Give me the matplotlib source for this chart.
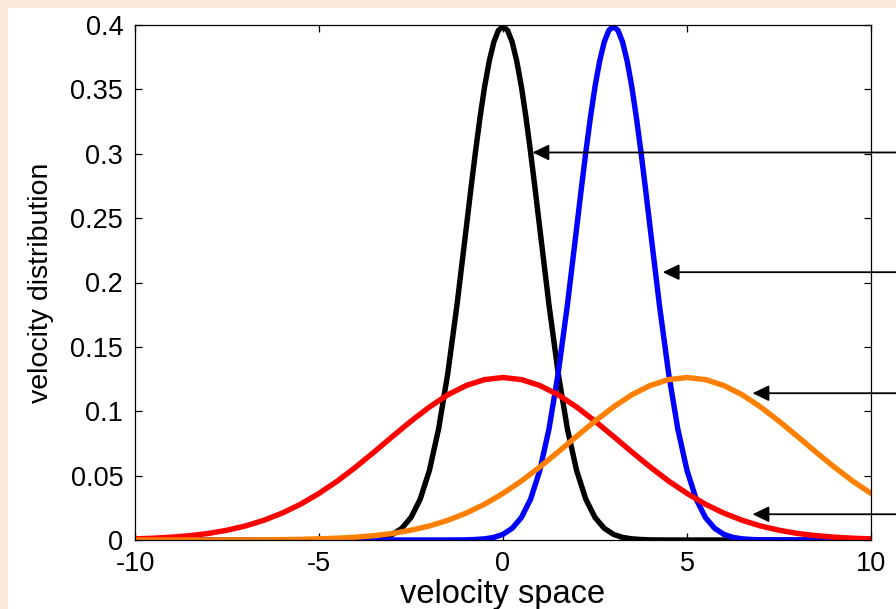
import matplotlib
matplotlib.use("Agg")
import matplotlib.pyplot as plt
from matplotlib.patches import Rectangle

plt.rcParams['font.family'] = ['Liberation Sans', 'DejaVu Sans']
plt.rcParams['axes.unicode_minus'] = False

# narrow distribution centred at 0 (black)
black_x = [-10, -4.5, -4, -3.75, -3.5, -3.25, -3, -2.75, -2.5, -2.25, -2, -1.75, -1.5, -1.25, -1,
           -0.875, -0.75, -0.625, -0.5, -0.375, -0.25, -0.125, 0, 0.125, 0.25, 0.375, 0.5, 0.625,
           0.75, 0.875, 1, 1.25, 1.5, 1.75, 2, 2.25, 2.5, 2.75, 3, 3.25, 3.5, 3.75, 4, 4.5, 10]
black_y = [0, 0, 0.0001, 0.0004, 0.0009, 0.0020, 0.0044, 0.0091, 0.0175, 0.0317, 0.0540, 0.0863,
           0.1295, 0.1826, 0.2420, 0.2721, 0.3011, 0.3281, 0.3521, 0.3718, 0.3867, 0.3958, 0.3989,
           0.3958, 0.3867, 0.3718, 0.3521, 0.3281, 0.3011, 0.2721, 0.2420, 0.1826, 0.1295, 0.0863,
           0.0540, 0.0317, 0.0175, 0.0091, 0.0044, 0.0020, 0.0009, 0.0004, 0.0001, 0, 0]

# narrow distribution centred at 3 (blue)
blue_x = [-10, -1.5, -1, -0.75, -0.5, -0.25, 0, 0.25, 0.5, 0.75, 1, 1.25, 1.5, 1.75, 2,
          2.125, 2.25, 2.375, 2.5, 2.625, 2.75, 2.875, 3, 3.125, 3.25, 3.375, 3.5, 3.625,
          3.75, 3.875, 4, 4.25, 4.5, 4.75, 5, 5.25, 5.5, 5.75, 6, 6.25, 6.5, 6.75, 7, 7.5, 10]
blue_y = [0, 0, 0.0001, 0.0004, 0.0009, 0.0020, 0.0044, 0.0091, 0.0175, 0.0317, 0.0540, 0.0863,
          0.1295, 0.1826, 0.2420, 0.2721, 0.3011, 0.3281, 0.3521, 0.3718, 0.3867, 0.3958, 0.3989,
          0.3958, 0.3867, 0.3718, 0.3521, 0.3281, 0.3011, 0.2721, 0.2420, 0.1826, 0.1295, 0.0863,
          0.0540, 0.0317, 0.0175, 0.0091, 0.0044, 0.0020, 0.0009, 0.0004, 0.0001, 0, 0]

# wide distributions (red centred at 0, orange at 5)
wide_x = [-10, -9.5, -9, -8.5, -8, -7.5, -7, -6.5, -6, -5.5, -5, -4.5, -4, -3.5, -3, -2.5, -2,
          -1.5, -1, -0.5, 0, 0.5, 1, 1.5, 2, 2.5, 3, 3.5, 4, 4.5, 5, 5.5, 6, 6.5, 7, 7.5, 8,
          8.5, 9, 9.5, 10]
red_y = [0.0009, 0.0014, 0.0022, 0.0034, 0.0051, 0.0076, 0.0109, 0.0153, 0.0209, 0.0278, 0.0362,
         0.0458, 0.0567, 0.0684, 0.0805, 0.0923, 0.1033, 0.1128, 0.1200, 0.1246, 0.1262, 0.1246,
         0.1200, 0.1128, 0.1033, 0.0923, 0.0805, 0.0684, 0.0567, 0.0458, 0.0362, 0.0278, 0.0209,
         0.0153, 0.0109, 0.0076, 0.0051, 0.0034, 0.0022, 0.0014, 0.0009]
orange_y = [0, 0, 0, 0, 0, 0.0001, 0.0001, 0.0002, 0.0003, 0.0005, 0.0009, 0.0014, 0.0022, 0.0034,
            0.0051, 0.0076, 0.0109, 0.0153, 0.0209, 0.0278, 0.0362, 0.0458, 0.0567, 0.0684, 0.0805,
            0.0923, 0.1033, 0.1128, 0.1200, 0.1246, 0.1262, 0.1246, 0.1200, 0.1128, 0.1033, 0.0923,
            0.0805, 0.0684, 0.0567, 0.0458, 0.0362]

# arrow tips (data coords)
arrow_x = [0.8, 4.34, 6.78, 6.78]
arrow_y = [0.301, 0.208, 0.114, 0.020]

xticks = [-10, -5, 0, 5, 10]
yticks = [0, 0.05, 0.1, 0.15, 0.2, 0.25, 0.3, 0.35, 0.4]
ytick_labels = ['0', '0.05', '0.1', '0.15', '0.2', '0.25', '0.3', '0.35', '0.4']

fig = plt.figure(figsize=(8.96, 6.09), dpi=100)
fig.patch.set_facecolor('#fcebdd')
fig.add_artist(Rectangle((8 / 896, 0), 1, 1 - 8 / 609, transform=fig.transFigure,
                         facecolor='white', edgecolor='none', zorder=-1))

ax = fig.add_axes([135 / 896, 69 / 609, 736 / 896, 515 / 609])
lw = 3.9
ax.plot(black_x, black_y, color='black', lw=lw)
ax.plot(blue_x, blue_y, color='#0000ff', lw=lw)
ax.plot(wide_x, red_y, color='#ff0000', lw=lw)
ax.plot(wide_x, orange_y, color='#ff8000', lw=lw)

for tx, ty in zip(arrow_x, arrow_y):
    ax.annotate('', xy=(tx, ty), xycoords='data',
                xytext=(1.0, ty), textcoords=('figure fraction', 'data'),
                arrowprops=dict(arrowstyle='-|>,head_length=0.5,head_width=0.24',
                                mutation_scale=20, color='black', lw=1.3,
                                shrinkA=0, shrinkB=0),
                annotation_clip=False, zorder=5)

ax.set_xlim(-10, 10)
ax.set_ylim(0, 0.4)
ax.set_xticks(xticks)
ax.set_yticks(yticks)
ax.set_yticklabels(ytick_labels)
ax.tick_params(direction='in', length=5, width=0.9, top=True, right=True, labelsize=19.5)
ax.tick_params(axis='y', pad=8.5)
ax.tick_params(axis='x', pad=8)
for s in ax.spines.values():
    s.set_linewidth(0.9)

ax.set_xlabel('velocity space', fontsize=23.5, labelpad=1)
ax.set_ylabel('velocity distribution', fontsize=20.5, labelpad=12)

fig.savefig('out.png', dpi=100, facecolor=fig.get_facecolor())
